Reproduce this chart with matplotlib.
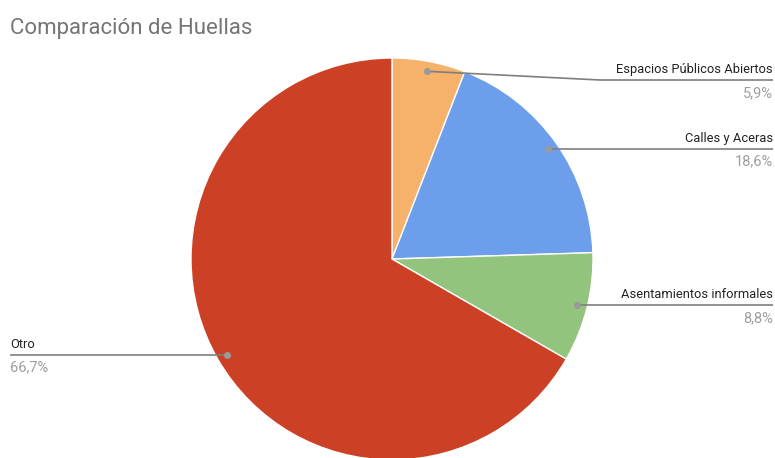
import numpy as np
import matplotlib
matplotlib.use("Agg")
import matplotlib.pyplot as plt

W, H = 775, 458

labels = ["Espacios Públicos Abiertos", "Calles y Aceras", "Asentamientos informales", "Otro"]
values = [5.9, 18.6, 8.8, 66.7]
pct_text = ["5,9%", "18,6%", "8,8%", "66,7%"]
colors = ["#f6b26b", "#6d9eeb", "#93c47d", "#cc4125"]

plt.rcParams['font.family'] = ['Roboto', 'DejaVu Sans']

fig = plt.figure(figsize=(W / 100, H / 100), dpi=100)
ax = fig.add_axes([0, 0, 1, 1])

cx, cy, R = 392, H - 259, 201

wedges, _ = ax.pie(values, colors=colors, startangle=90, counterclock=False,
                   center=(cx, cy), radius=R, frame=True,
                   wedgeprops=dict(edgecolor='white', linewidth=1))
ax.set_xlim(0, W)
ax.set_ylim(0, H)
ax.set_aspect('equal')
ax.axis('off')

# leader lines: dot at 0.95R on the wedge mid-angle
bend_y = [H - 80, None, None, None]
for i, w in enumerate(wedges):
    ang = np.deg2rad((w.theta1 + w.theta2) / 2)
    dx = cx + 0.95 * R * np.cos(ang)
    dy = cy + 0.95 * R * np.sin(ang)
    ly = bend_y[i] if bend_y[i] is not None else dy
    if np.cos(ang) >= 0:
        xs = [dx, 600, 773] if bend_y[i] is not None else [dx, 773]
        ys = [dy, ly, ly] if bend_y[i] is not None else [dy, ly]
        tx, ha = 773, 'right'
    else:
        xs, ys = [dx, 10], [dy, ly]
        tx, ha = 10, 'left'
    ax.plot(xs, ys, color='#7f7f7f', lw=1.2, solid_capstyle='butt', zorder=3)
    ax.plot([dx], [dy], 'o', ms=4, color='#9a9a9a', zorder=4)
    ax.text(tx, ly + 4, labels[i], ha=ha, va='bottom', fontsize=9.3, color='#222222')
    ax.text(tx, ly - 6, pct_text[i], ha=ha, va='top', fontsize=10.5, color='#9e9e9e')

fig.text(10 / W, 1 - 34 / H, "Comparación de Huellas", fontsize=16, color='#757575',
         ha='left', va='baseline')

fig.savefig("out.png", dpi=100)
